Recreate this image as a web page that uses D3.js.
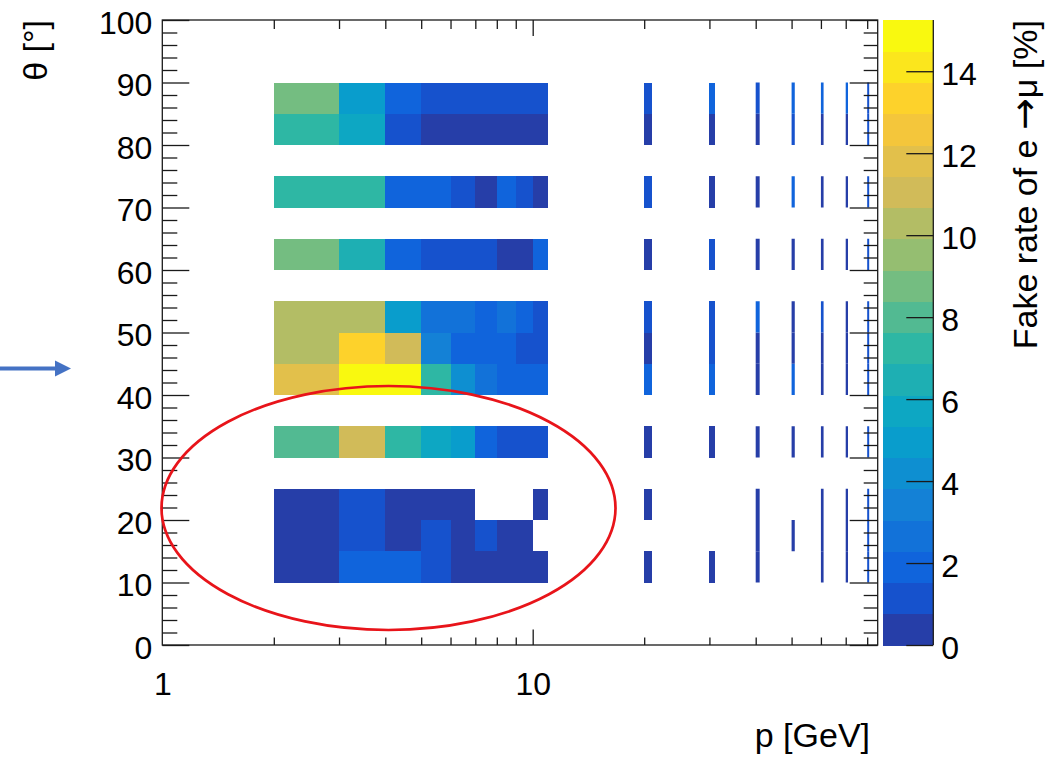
<!DOCTYPE html>
<html><head><meta charset="utf-8">
<script src="https://cdn.jsdelivr.net/npm/d3@7"></script>
<style>
body{margin:0;background:#fff;}
svg{display:block;font-family:"Liberation Sans",Arial,Helvetica,sans-serif;}
</style>
</head><body>
<svg id="c" width="1063" height="758"></svg>
<script>
// ---- data ----
const pBins = [2,3,4,5,6,7,8,9,10,20,30,40,50,60,70,80];   // lower edges [GeV], width 1 GeV
const pBinWidth = 1;
const thetaBins = [10,15,20,30,40,45,50,60,70,80,85];       // lower edges [deg], width 5 deg
const thetaBinWidth = 5;
// fake rate [%]; rows follow thetaBins, columns follow pBins (null = empty bin)
const rate10 = [0.4, 1.8, 2.0, 1.1, 0.5, 0.4, 0.3, 0.5, 0.4, 0.5, 0.4, 0.3, null, 0.4, 0.4, 1.0];
const rate15 = [0.4, 1.2, 0.5, 1.1, 0.4, 1.0, 0.3, 0.4, null, null, null, 0.4, 0.5, 0.4, 0.4, 1.0];
const rate20 = [0.4, 1.2, 0.5, 0.6, 0.5, null, null, null, 0.3, 0.4, null, 0.4, null, 0.4, 0.4, 1.0];
const rate30 = [8.0, 11.0, 7.2, 5.7, 5.0, 1.8, 1.2, 1.1, 1.0, 0.5, 0.4, 0.4, 0.5, 0.4, 0.4, 1.0];
const rate40 = [11.8, 15.0, 15.25, 7.3, 4.2, 2.7, 2.0, 1.9, 1.8, 1.9, 1.8, 0.5, 1.7, 0.4, 0.4, 1.0];
const rate45 = [10.3, 13.3, 11.0, 3.4, 1.9, 2.0, 1.8, 1.2, 1.1, 0.5, 1.1, 0.4, 0.5, 0.4, 0.4, 1.0];
const rate50 = [10.2, 10.4, 5.0, 2.7, 2.6, 1.9, 2.8, 1.8, 1.2, 1.1, 1.2, 1.7, 0.5, 1.2, 0.4, 1.0];
const rate60 = [8.8, 6.5, 1.9, 1.2, 1.1, 1.2, 0.5, 0.4, 1.8, 0.5, 1.1, 0.4, 0.5, 0.4, 0.4, 1.0];
const rate70 = [7.2, 7.3, 1.9, 1.8, 1.2, 0.5, 1.9, 1.1, 0.4, 1.2, 0.5, 0.4, 1.8, 0.5, 0.4, 1.0];
const rate80 = [7.2, 5.7, 1.2, 0.4, 0.5, 0.4, 0.5, 0.4, 0.4, 0.5, 0.4, 0.4, 1.2, 0.4, 0.4, 1.0];
const rate85 = [8.8, 5.0, 1.9, 1.1, 1.2, 1.1, 1.2, 1.1, 1.1, 1.2, 1.9, 1.3, 1.9, 1.7, 1.8, 1.0];
const rateRows = [rate10, rate15, rate20, rate30, rate40, rate45, rate50, rate60, rate70, rate80, rate85];

const yTicks = [0,10,20,30,40,50,60,70,80,90,100];
const xLabelTicks = [1, 10];
const zTicks = [0,2,4,6,8,10,12,14];
const xTitle = "p [GeV]";
const yTitle = "\u03B8 [\u00B0]";
const nContours = 20;

// ---- ROOT kBird palette ----
const stops = [0.0000, 0.1250, 0.2500, 0.3750, 0.5000, 0.6250, 0.7500, 0.8750, 1.0000];
const red   = [0.2082, 0.0592, 0.0780, 0.0232, 0.1802, 0.5301, 0.8186, 0.9956, 0.9764];
const green = [0.1664, 0.3599, 0.5041, 0.6419, 0.7178, 0.7492, 0.7328, 0.7862, 0.9832];
const blue  = [0.5293, 0.8684, 0.8385, 0.7914, 0.6425, 0.4662, 0.3499, 0.1968, 0.0539];
const NC = 255;
const palette = [];
for (let g = 1; g < stops.length; g++) {
  const n = Math.floor(NC*stops[g]) - Math.floor(NC*stops[g-1]);
  for (let c = 0; c < n; c++) {
    const f = c/n;
    palette.push(d3.rgb(
      255*(red[g-1] + f*(red[g]-red[g-1])),
      255*(green[g-1] + f*(green[g]-green[g-1])),
      255*(blue[g-1] + f*(blue[g]-blue[g-1]))).formatHex());
  }
}
function bandColor(i) {
  const k = Math.min(palette.length-1, Math.floor((i+0.99)*NC/nContours));
  return palette[k];
}

// ---- layout ----
const svg = d3.select("#c");
const X0 = 162.3, X1 = 877.7, Y0 = 20, Y1 = 645;
const cells = [];
rateRows.forEach((row, r) => row.forEach((v, c) => {
  if (v !== null) cells.push({p: pBins[c], t: thetaBins[r], v});
}));
const zMax = d3.max(cells, d => d.v);
const x = d3.scaleLog().domain([1, 85.4]).range([X0, X1]);
const y = d3.scaleLinear().domain([0, 100]).range([Y1, Y0]);
const zBand = d3.scaleQuantize().domain([0, zMax]).range(d3.range(nContours));

// cells
svg.append("g").selectAll("rect").data(cells).join("rect")
  .attr("x", d => x(d.p))
  .attr("width", d => x(d.p + pBinWidth) - x(d.p))
  .attr("y", d => y(d.t + thetaBinWidth))
  .attr("height", d => y(d.t) - y(d.t + thetaBinWidth))
  .attr("shape-rendering", d => (x(d.p + pBinWidth) - x(d.p)) > 5 ? "crispEdges" : "auto")
  .attr("fill", d => bandColor(Math.min(nContours-1, zBand(d.v))));

// frame
svg.append("rect").attr("x", X0).attr("y", Y0).attr("width", X1-X0).attr("height", Y1-Y0)
  .attr("fill", "none").attr("stroke", "#1a1a1a").attr("stroke-width", 1.3);

const axStyle = g => { g.select(".domain").remove(); g.selectAll("line").attr("stroke", "#1a1a1a").attr("stroke-width", 1.3); };

// y ticks (both sides)
const yMinor = d3.range(0, 101, 2).filter(v => v % 10 !== 0);
svg.append("g").attr("transform", `translate(${X0},0)`)
  .call(d3.axisRight(y).tickValues(yTicks).tickSize(27).tickFormat("")).call(axStyle);
svg.append("g").attr("transform", `translate(${X0},0)`)
  .call(d3.axisRight(y).tickValues(yMinor).tickSize(15).tickFormat("")).call(axStyle);
svg.append("g").attr("transform", `translate(${X1},0)`)
  .call(d3.axisLeft(y).tickValues(yTicks).tickSize(28).tickFormat("")).call(axStyle);
svg.append("g").attr("transform", `translate(${X1},0)`)
  .call(d3.axisLeft(y).tickValues(yMinor).tickSize(14).tickFormat("")).call(axStyle);
// y labels
const yl = svg.append("g").attr("transform", `translate(${X0},0)`)
  .call(d3.axisLeft(y).tickValues(yTicks).tickSize(0).tickPadding(10));
yl.select(".domain").remove();
yl.selectAll("text").attr("font-size", 32).attr("fill", "#000").attr("dy", "0.42em")
  .attr("font-family", '"Liberation Sans",Arial,sans-serif');

// x ticks (both sides)
const xMinor = [2,3,4,5,6,7,8,9,20,30,40,50,60,70,80];
svg.append("g").attr("transform", `translate(0,${Y1})`)
  .call(d3.axisTop(x).tickValues([10]).tickSize(15.5).tickFormat("")).call(axStyle);
svg.append("g").attr("transform", `translate(0,${Y1})`)
  .call(d3.axisTop(x).tickValues(xMinor).tickSize(7.5).tickFormat("")).call(axStyle);
svg.append("g").attr("transform", `translate(0,${Y0})`)
  .call(d3.axisBottom(x).tickValues([10]).tickSize(16).tickFormat("")).call(axStyle);
svg.append("g").attr("transform", `translate(0,${Y0})`)
  .call(d3.axisBottom(x).tickValues(xMinor).tickSize(9).tickFormat("")).call(axStyle);
const xl = svg.append("g").attr("transform", `translate(0,${Y1})`)
  .call(d3.axisBottom(x).tickValues(xLabelTicks).tickSize(0).tickPadding(0).tickFormat(d3.format("d")));
xl.select(".domain").remove();
xl.selectAll("text").attr("font-size", 32).attr("fill", "#000").attr("dy", null).attr("y", 50)
  .attr("font-family", '"Liberation Sans",Arial,sans-serif');

// axis titles
svg.append("text").attr("x", 870).attr("y", 747).attr("text-anchor", "end")
  .attr("font-size", 34).text(xTitle);
svg.append("text").attr("transform", "translate(47,20) rotate(-90)").attr("text-anchor", "end")
  .attr("font-size", 34).text(yTitle);

// colour bar
const CB0 = 882.7, CB1 = 933.3;
const z = d3.scaleLinear().domain([0, zMax]).range([Y1, Y0]);
const bandEdges = d3.range(nContours + 1).map(i => i*zMax/nContours);
svg.append("g").selectAll("rect").data(d3.range(nContours)).join("rect")
  .attr("x", CB0).attr("width", CB1 - CB0)
  .attr("y", i => z(bandEdges[i+1])).attr("height", i => z(bandEdges[i]) - z(bandEdges[i+1]) + 0.5)
  .attr("shape-rendering", "crispEdges")
  .attr("fill", i => bandColor(i));
svg.append("line").attr("x1", CB1).attr("x2", CB1).attr("y1", Y0).attr("y2", Y1)
  .attr("stroke", "#1a1a1a").attr("stroke-width", 1.3);
svg.append("g").attr("transform", `translate(${CB1},0)`)
  .call(d3.axisLeft(z).tickValues(zTicks).tickSize(27).tickFormat("")).call(axStyle);
const zl = svg.append("g").attr("transform", `translate(${CB1},0)`)
  .call(d3.axisRight(z).tickValues(zTicks).tickSize(0).tickPadding(8));
zl.select(".domain").remove();
zl.selectAll("text").attr("font-size", 32).attr("fill", "#000").attr("dy", "0.42em")
  .attr("font-family", '"Liberation Sans",Arial,sans-serif');
const zt = svg.append("text").attr("transform", "translate(1037,20) rotate(-90)").attr("text-anchor", "end")
  .attr("font-size", 34);
zt.append("tspan").text("Fake rate of e ");
zt.append("tspan").attr("font-family", '"DejaVu Sans",sans-serif').attr("font-size", 38).text("\u2192");
zt.append("tspan").text("\u03BC [%]");

// annotations
svg.append("ellipse").attr("cx", 388.5).attr("cy", 508).attr("rx", 227).attr("ry", 122)
  .attr("fill", "none").attr("stroke", "#e8141a").attr("stroke-width", 2.7);
svg.append("line").attr("x1", 0).attr("x2", 58).attr("y1", 368.5).attr("y2", 368.5)
  .attr("stroke", "#4472c4").attr("stroke-width", 4);
svg.append("path").attr("d", "M55,360.5 L71,368.5 L55,376.5 Z").attr("fill", "#4472c4");
</script>
</body></html>
